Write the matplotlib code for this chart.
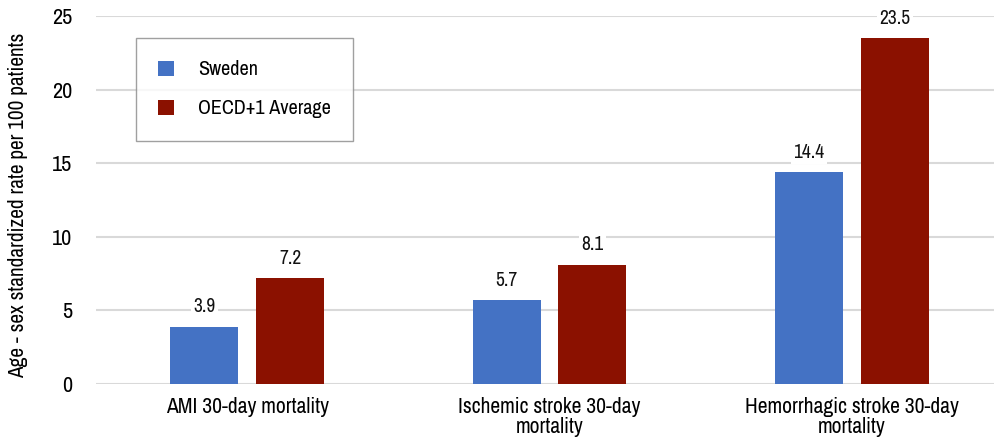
import numpy as np
import matplotlib
matplotlib.use('Agg')
import matplotlib.pyplot as plt
from matplotlib.font_manager import fontManager

# ── Data ────────────────────────────────────────────────────────────────────
categories = ['AMI 30-day mortality',
              'Ischemic stroke 30-day\nmortality',
              'Hemorrhagic stroke 30-day\nmortality']
sweden = [3.9, 5.7, 14.4]
oecd = [7.2, 8.1, 23.5]
series_names = ['Sweden', 'OECD+1 Average']
y_ticks = [0, 5, 10, 15, 20, 25]

# prefer a narrow face when one is installed
narrow = sorted({f.name for f in fontManager.ttflist
                 if 'Condensed' in f.name or 'Narrow' in f.name})
stretch = 'normal'
if narrow:
    family = narrow[0]
else:
    family = 'Roboto'
    if any(f.name == 'Roboto' and f.stretch not in ('normal', 500)
           for f in fontManager.ttflist):
        stretch = 'condensed'
plt.rcParams['font.family'] = [family, 'DejaVu Sans']
plt.rcParams['font.stretch'] = stretch

BLUE = '#4472C4'
RED = '#8B1100'

fig = plt.figure(figsize=(9.94, 4.42), dpi=100)
ax = fig.add_axes([0.0966, 0.1312, 0.9034, 0.8326])

x = np.arange(len(categories))
w = 0.225
off = 0.142
b1 = ax.bar(x - off, sweden, w, color=BLUE, label=series_names[0], zorder=3)
b2 = ax.bar(x + off, oecd, w, color=RED, label=series_names[1], zorder=3)

for bars, vals in ((b1, sweden), (b2, oecd)):
    for rect, v in zip(bars, vals):
        ax.text(rect.get_x() + rect.get_width() / 2, v + 0.7, f'{v:.1f}',
                ha='center', va='bottom', fontsize=14, color='#111111',
                zorder=4,
                bbox=dict(facecolor='white', edgecolor='none', pad=1.5))

ax.set_xlim(-0.5, 2.47)
ax.set_ylim(0, 25)
ax.set_yticks(y_ticks)
ax.set_xticks(x)
ax.set_xticklabels(categories, fontsize=15.5, linespacing=1.05)
ax.tick_params(axis='y', labelsize=16, length=0, pad=17)
ax.tick_params(axis='x', length=0, pad=9)
ax.yaxis.grid(True, color='#d9d9d9', linewidth=1.5, zorder=0)
ax.set_axisbelow(True)
for s in ax.spines.values():
    s.set_visible(False)
ax.set_ylabel('Age - sex standardized rate per 100 patients', fontsize=15.3)
ax.yaxis.set_label_coords(-0.076, 0.485)

leg = ax.legend(loc='upper left', bbox_to_anchor=(0.044, 0.94), fontsize=14.5,
                frameon=True, fancybox=False, edgecolor='#888888',
                handlelength=0.8, handleheight=0.8, handletextpad=1.2,
                borderpad=1.1, labelspacing=1.0, borderaxespad=0)
leg.get_frame().set_linewidth(1.0)

fig.savefig('out.png', dpi=100)
